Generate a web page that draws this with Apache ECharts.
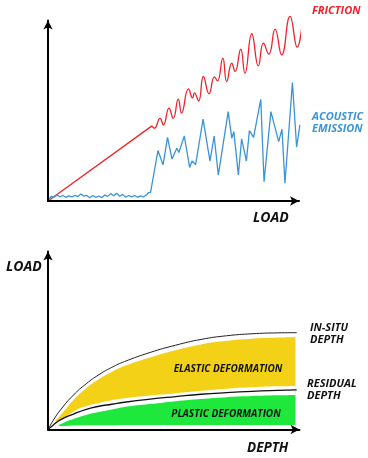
<!DOCTYPE html>
<html><head><meta charset="utf-8">
<script src="https://cdn.jsdelivr.net/npm/echarts@6/dist/echarts.min.js"></script>
<style>html,body{margin:0;padding:0;background:#fff}#c{width:368px;height:458px}</style>
</head><body><div id="c"></div>
<script>
// ---- Top chart: friction & acoustic emission vs load ----
// friction: straight ramp, then oscillating rise
const frictionRampLoad = [0, 34.8];
const frictionRampVal  = [0, 40.8];
const frictionLoad = [34.8, 35.6, 37.5, 38.6, 40.5, 41.9, 43.6, 44.7, 47.0, 48.4, 49.0, 50.4, 52.0, 53.9, 55.7, 56.7, 58.5, 59.8, 61.5, 62.6, 64.5, 65.9, 68.2, 70.4, 72.1, 73.9, 76.0, 78.2, 81.0, 83.4, 85.2];
const frictionVal  = [40.8, 39.5, 44.9, 41.3, 50.4, 44.9, 55.3, 47.7, 60.9, 56.0, 58.7, 54.3, 67.6, 58.2, 67.4, 65.2, 77.6, 64.8, 74.8, 70.3, 82.4, 69.4, 90.8, 73.4, 85.7, 79.7, 93.3, 79.3, 100.2, 83.5, 98.8];
const acousticLoad = [0,1,2,3,4,5,6,7,8,9,10,11,12,13,14,15,16,17,18,19,20,21,22,23,24,25,26,27,28,29,30,31,32,33,
  33.6, 34.3, 36.8, 38.5, 40.0, 41.5, 43.1, 43.8, 45.6, 47.4, 48.2, 49.4, 51.9, 54.2, 55.6, 57.0, 60.3, 61.5, 62.2, 63.7, 64.8, 66.4, 67.4, 68.8, 71.2, 72.3, 74.6, 77.2, 78.3, 79.3, 81.8, 83.2, 84.3];
const acousticVal = [0, 2.5, 2.0, 3.2, 2.3, 3.0, 2.0, 2.8, 2.2, 3.0, 2.4, 3.8, 2.6, 3.0, 1.8, 3.0, 2.0, 2.7, 1.8, 3.2, 2.5, 4.0, 2.8, 4.2, 2.6, 3.6, 2.0, 3.0, 2.2, 3.0, 2.0, 2.8, 2.2, 3.4,
  4.5, 4.5, 27.4, 19.6, 34.5, 22.8, 28.6, 26.3, 35.3, 18.2, 21.7, 19.8, 44.4, 21.7, 35.3, 14.1, 48.5, 34.1, 37.7, 14.1, 33.7, 21.7, 38.2, 34.5, 55.2, 10.5, 48.5, 32.2, 39.0, 9.6, 64.3, 29.3, 41.3];

// ---- Bottom chart: load vs depth ----
const curveDepth   = [0, 2, 5, 10, 15, 20, 25, 30, 40, 50, 60, 70, 80, 90, 97.5];
const inSituLoad   = [0, 4.9, 11.0, 19.0, 25.2, 30.2, 34.2, 37.4, 42.4, 46.4, 49.6, 51.6, 52.7, 53.2, 53.3];
const residualLoad = [0, 2.4, 5.4, 8.5, 11.1, 12.8, 13.9, 15.0, 16.7, 18.1, 19.4, 20.3, 21.0, 21.5, 21.8];
const elasticDepth  = [3, 5, 10, 15, 20, 25, 30, 40, 50, 60, 70, 80, 90, 97];
const elasticTop    = [4.9, 8.0, 16.3, 22.7, 27.8, 31.7, 34.9, 39.6, 43.6, 46.8, 48.8, 50.0, 50.6, 50.8];
const elasticBottom = [4.6, 5.2, 9.9, 12.9, 14.6, 16.1, 17.2, 18.7, 20.0, 21.3, 22.5, 23.3, 23.8, 24.0];
const plasticDepth  = [4, 5, 10, 15, 20, 25, 30, 40, 50, 60, 70, 80, 90, 97];
const plasticTop    = [1.9, 3.0, 5.8, 8.0, 9.6, 11.0, 12.4, 14.0, 15.6, 16.8, 17.8, 18.4, 18.8, 19.0];
const plasticBottom = [1.9, 1.9, 2.2, 2.3, 2.4, 2.4, 2.5, 2.5, 2.5, 2.5, 2.5, 2.5, 2.5, 2.5];

const RED = '#ee2329', BLUE = '#3a94d6', YELLOW = '#f2d116', GREEN = '#1fe83c';
const pairs = (xs, ys) => xs.map((x, i) => [x, ys[i]]);

const axisLine = {show: true, symbol: ['none', 'arrow'], symbolSize: [7, 9], lineStyle: {color: '#000', width: 2}};
const mkAxis = (idx, max) => ({type: 'value', gridIndex: idx, min: 0, max: max, z: 10, axisLine: axisLine,
  axisTick: {show: false}, axisLabel: {show: false}, splitLine: {show: false}});

const f = s => 'italic bold ' + s + 'px "Open Sans", sans-serif';
const txt = (text, x, y, size, color, align) => ({type: 'text', x: x, y: y, z: 100,
  style: {text: text, font: f(size), fill: color, align: align || 'left', verticalAlign: 'middle',
    textAlign: align || 'left', textVerticalAlign: 'middle'}});
const band = (xs, ys, color) => ({type: 'line', xAxisIndex: 1, yAxisIndex: 1, data: pairs(xs, ys), smooth: true,
  showSymbol: false, silent: true, lineStyle: {width: 0, opacity: 0}, areaStyle: {color: color, opacity: 1}});

const chart = echarts.init(document.getElementById('c'), null, {renderer: 'canvas'});
chart.setOption({
  animation: false,
  backgroundColor: '#fff',
  grid: [
    {left: 48, top: 20.5, width: 251, height: 180.5},
    {left: 48, top: 251.5, width: 251.5, height: 178}
  ],
  xAxis: [mkAxis(0, 84), mkAxis(1, 98.6)],
  yAxis: [mkAxis(0, 98), mkAxis(1, 98)],
  series: [
    {type: 'line', xAxisIndex: 0, yAxisIndex: 0, data: pairs(frictionRampLoad, frictionRampVal), smooth: false,
      showSymbol: false, clip: false, lineStyle: {color: RED, width: 1.3}},
    {type: 'line', xAxisIndex: 0, yAxisIndex: 0, data: pairs(frictionLoad, frictionVal), smooth: 0.5,
      showSymbol: false, clip: false, lineStyle: {color: RED, width: 1.3}},
    {type: 'line', xAxisIndex: 0, yAxisIndex: 0, data: pairs(acousticLoad, acousticVal), smooth: false,
      showSymbol: false, clip: false, lineStyle: {color: BLUE, width: 1.3}},
    band(elasticDepth, elasticTop, YELLOW),
    band(elasticDepth, elasticBottom, '#fff'),
    band(plasticDepth, plasticTop, GREEN),
    band(plasticDepth, plasticBottom, '#fff'),
    {type: 'line', xAxisIndex: 1, yAxisIndex: 1, data: pairs(curveDepth, inSituLoad), smooth: true,
      showSymbol: false, clip: false, lineStyle: {color: '#222', width: 1}},
    {type: 'line', xAxisIndex: 1, yAxisIndex: 1, data: pairs(curveDepth, residualLoad), smooth: true,
      showSymbol: false, clip: false, lineStyle: {color: '#111', width: 1.3}}
  ],
  graphic: [
    txt('FRICTION', 312, 11, 11, RED),
    txt('ACOUSTIC', 312, 117, 11, BLUE),
    txt('EMISSION', 312, 128.5, 11, BLUE),
    txt('LOAD', 253, 218, 14, '#111'),
    txt('LOAD', 6, 267, 14, '#111'),
    txt('DEPTH', 247, 448, 13.5, '#111'),
    txt('IN-SITU', 310, 328, 11, '#111'),
    txt('DEPTH', 310, 340, 11, '#111'),
    txt('RESIDUAL', 307, 384, 11, '#111'),
    txt('DEPTH', 307, 396, 11, '#111'),
    txt('ELASTIC DEFORMATION', 228, 369.5, 10, '#111', 'center'),
    txt('PLASTIC DEFORMATION', 226, 414.5, 10, '#111', 'center')
  ]
});
</script></body></html>
